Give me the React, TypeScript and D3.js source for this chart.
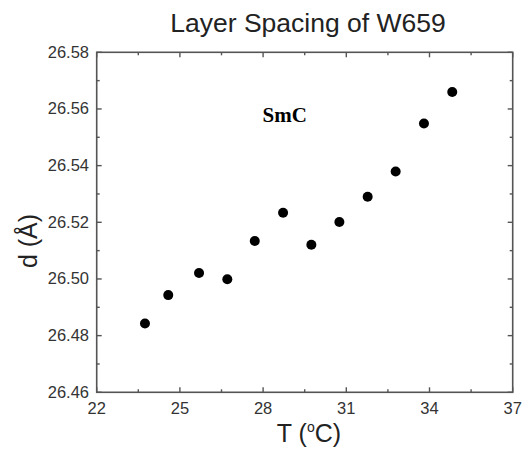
import React from "react";
import * as d3 from "d3";

const temperatures = [23.74, 24.58, 25.69, 26.71, 27.7, 28.72, 29.74, 30.75, 31.77, 32.78, 33.8, 34.82];
const spacings = [26.4843, 26.4943, 26.5021, 26.4999, 26.5134, 26.5234, 26.5121, 26.5201, 26.529, 26.5379, 26.5549, 26.566];
const xTicks = [22, 25, 28, 31, 34, 37];
const yTicks = [26.46, 26.48, 26.5, 26.52, 26.54, 26.56, 26.58];
const xMinor = [23.5, 26.5, 29.5, 32.5, 35.5];
const yMinor = [26.47, 26.49, 26.51, 26.53, 26.55, 26.57];

const W = 530, H = 450;
const L = 96.7, R = 512.7, T = 52.3, B = 392.3;

export default function App() {
  const x = d3.scaleLinear().domain([22, 37]).range([L, R]);
  const y = d3.scaleLinear().domain([26.46, 26.58]).range([B, T]);
  const axisColor = "#555";
  const font = "'Liberation Sans', Arial, sans-serif";
  const major = 5, minor = 3;
  return (
    <svg width={W} height={H} style={{ position: "absolute", left: 0, top: 0, background: "#fff" }}>
      <rect x={L} y={T} width={R - L} height={B - T} fill="none" stroke={axisColor} strokeWidth={1.6} />
      {xTicks.map((t) => (
        <g key={"xt" + t}>
          <line x1={x(t)} x2={x(t)} y1={B} y2={B - major} stroke={axisColor} strokeWidth={1.4} />
          <line x1={x(t)} x2={x(t)} y1={T} y2={T + major} stroke={axisColor} strokeWidth={1.4} />
          <text x={x(t)} y={413.5} textAnchor="middle" fontFamily={font} fontSize={16.5} fill="#333">{t}</text>
        </g>
      ))}
      {xMinor.map((t) => (
        <g key={"xm" + t}>
          <line x1={x(t)} x2={x(t)} y1={B} y2={B - minor} stroke={axisColor} strokeWidth={1.4} />
          <line x1={x(t)} x2={x(t)} y1={T} y2={T + minor} stroke={axisColor} strokeWidth={1.4} />
        </g>
      ))}
      {yTicks.map((t) => (
        <g key={"yt" + t}>
          <line x1={L} x2={L + major} y1={y(t)} y2={y(t)} stroke={axisColor} strokeWidth={1.4} />
          <line x1={R} x2={R - major} y1={y(t)} y2={y(t)} stroke={axisColor} strokeWidth={1.4} />
          <text x={89} y={y(t) + 5.5} textAnchor="end" fontFamily={font} fontSize={16.5} fill="#333">{t.toFixed(2)}</text>
        </g>
      ))}
      {yMinor.map((t) => (
        <g key={"ym" + t}>
          <line x1={L} x2={L + minor} y1={y(t)} y2={y(t)} stroke={axisColor} strokeWidth={1.4} />
          <line x1={R} x2={R - minor} y1={y(t)} y2={y(t)} stroke={axisColor} strokeWidth={1.4} />
        </g>
      ))}
      {temperatures.map((t, i) => (
        <circle key={"p" + i} cx={x(t)} cy={y(spacings[i])} r={5} fill="#000" />
      ))}
      <text x={308} y={32.3} textAnchor="middle" fontFamily={font} fontSize={26.5} fill="#222">Layer Spacing of W659</text>
      <text x={262.5} y={122.3} fontFamily="'Liberation Serif', 'Times New Roman', serif" fontWeight="bold" fontSize={21} fill="#000">SmC</text>
      <text x={309} y={442} textAnchor="middle" fontFamily={font} fontSize={25} fill="#222">
        T (<tspan dy={-10} fontSize={14}>o</tspan><tspan dy={10}>C)</tspan>
      </text>
      <text transform={`translate(37,241) rotate(-90)`} textAnchor="middle" fontFamily={font} fontSize={25} fill="#222">d (Å)</text>
    </svg>
  );
}
